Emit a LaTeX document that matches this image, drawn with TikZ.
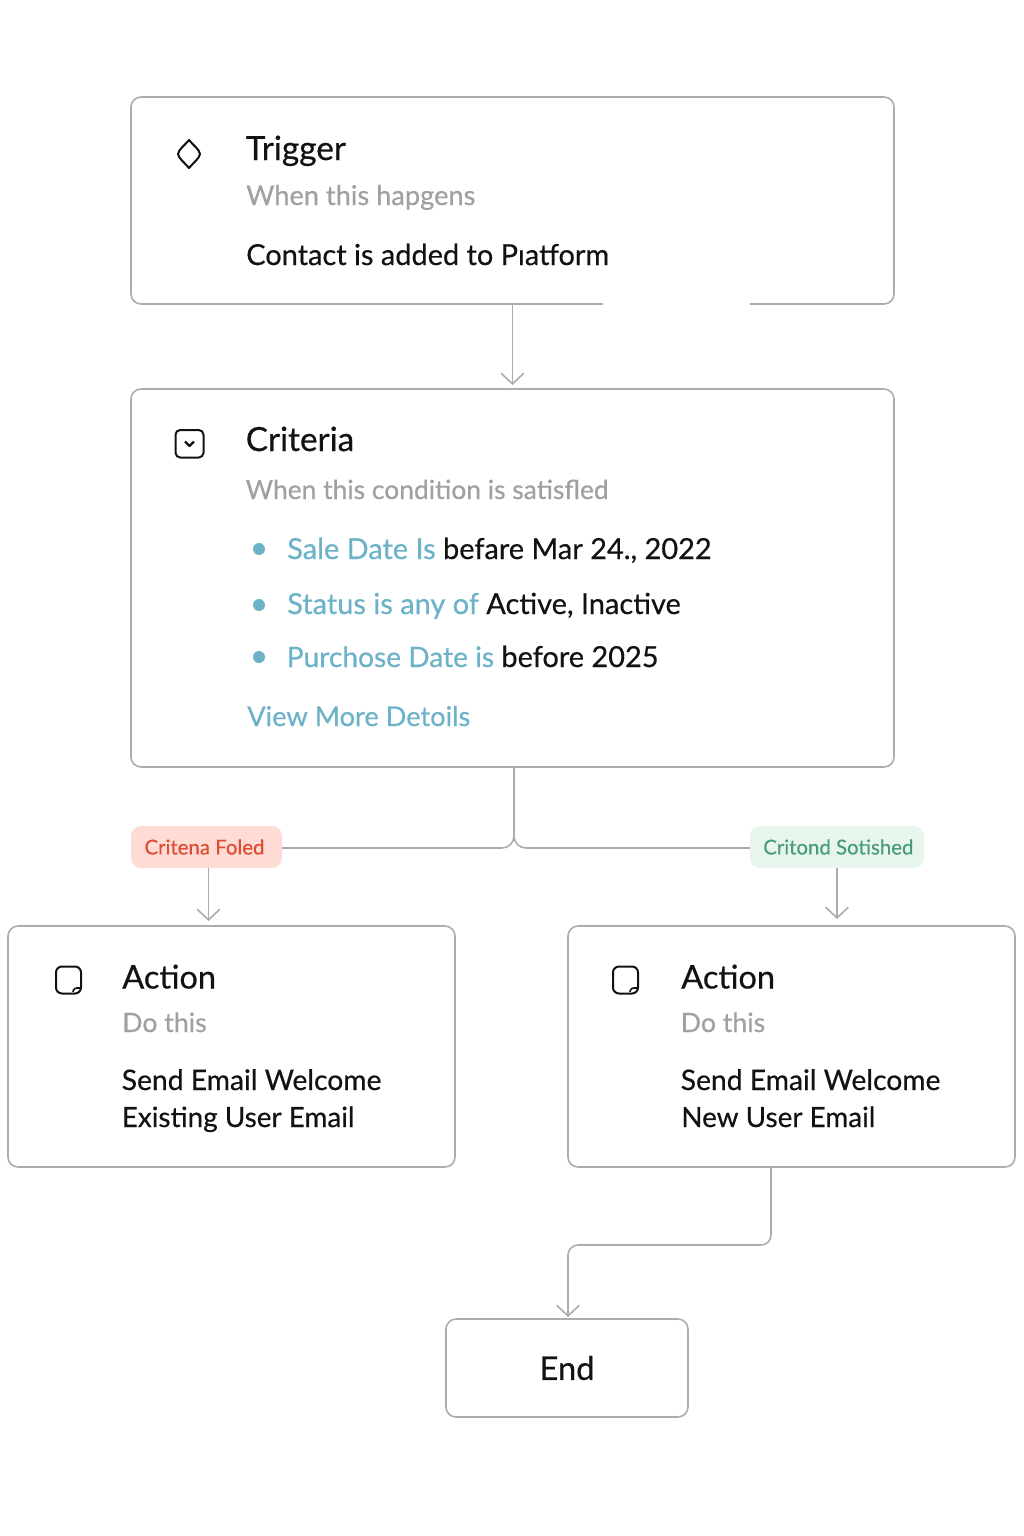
\documentclass[tikz,border=0pt]{standalone}
\usepackage{fontspec}
\setmainfont{Lato}[FakeBold=0.45]
\usetikzlibrary{arrows.meta,calc}
\definecolor{figW}{RGB}{172,172,172}
\definecolor{figG}{RGB}{160,160,160}
\definecolor{figB}{RGB}{108,178,201}
\definecolor{figK}{RGB}{18,18,18}
\definecolor{figR}{RGB}{222,76,52}
\definecolor{figRb}{RGB}{255,219,214}
\definecolor{figN}{RGB}{72,156,120}
\definecolor{figNb}{RGB}{232,245,236}
\newcommand{\fsz}[1]{\fontsize{#1}{#1}\selectfont}

\begin{document}
\begin{tikzpicture}[x=0.75pt,y=-0.75pt,>={Straight Barb[length=8pt,width=17pt]},
  card/.style={draw=figW,line width=1.2pt,rounded corners=7.5pt,inner sep=0pt,outer sep=0pt,fill=white},
  wire/.style={draw=figW,line width=1.2pt},
  tag/.style={rounded corners=7.5pt,inner sep=0pt,outer sep=0pt,minimum height=31.5pt,font=\fsz{15.3}},
  head/.style={anchor=base west,inner sep=0pt,text=figK,font=\fsz{25}},
  sub/.style={anchor=base west,inner sep=0pt,text=figG,font=\fsz{20}},
  body/.style={anchor=base west,inner sep=0pt,text=figK,font=\fsz{21.7}},
  icon/.style={draw=figK,line width=1.5pt,line join=round}]
\useasboundingbox (0,0) rectangle (1024,1536);
\node[card,minimum width=572.25pt,minimum height=155.25pt] (trigger) at (512.5,200.5) {};
\node[card,minimum width=572.25pt,minimum height=283.5pt] (criteria) at (512.5,578) {};
\node[card,minimum width=335.25pt,minimum height=180.75pt] (actleft) at (231.5,1046.5) {};
\node[card,minimum width=335.25pt,minimum height=180.75pt] (actright) at (791.5,1046.5) {};
\node[card,minimum width=181.5pt,minimum height=73.5pt] (finish) at (567,1368) {\fsz{24.5}\textcolor{figK}{End}};
\node[tag,fill=figRb,text=figR,minimum width=113.25pt] (failed) at (206.5,847) {\hspace*{-3pt}Critena Foled};
\node[tag,fill=figNb,text=figN,minimum width=130.5pt] (passed) at (837,847) {\hspace*{2pt}Critond Sotished};
% gap in the lower edge of the first box
\draw[white,line width=2.2pt] (603,304) -- (750,304);
\coordinate (fork) at (514,767);
\coordinate (merge) at (771,1167);
\draw[wire,->] (trigger.south) -- ([yshift=3pt]trigger.south |- criteria.north);
\draw[wire,rounded corners=9pt] (fork) |- ([yshift=-0.75pt]failed.east);
\draw[wire,rounded corners=9pt] (fork) |- ([yshift=-0.75pt]passed.west);
\draw[wire,->] ([xshift=1.5]failed.south) -- ([xshift=1.5,yshift=3.75pt]failed.south |- actleft.north);
\draw[wire,->] (passed.south) -- ([yshift=5.25pt]passed.south |- actright.north);
\draw[wire,->,rounded corners=7.5pt] (merge) -- (771,1245) -- (568,1245) -- (568,1317);
% trigger
\draw[icon] (189,140) .. controls (192,144) and (200,150) .. (200,154) .. controls (200,158) and (192,164) .. (189,168) .. controls (186,164) and (178,158) .. (178,154) .. controls (178,150) and (186,144) .. (189,140) -- cycle;
\node[head] (trigtitle) at (245.5,160) {Trigger};
\node[sub,font=\fsz{20.4}] (trigsub) at (246,205) {When this hapgens};
\node[body] (trigbody) at (246,265) {Contact is added to Pıatform};
% criteria
\draw[icon,rounded corners=3.5pt] (175.5,430) rectangle (203.5,457.5);
\draw[icon,line width=1.7pt] (185,441.5) -- (189.5,446) -- (194,441.5);
\node[head] (crittitle) at (245.5,451) {Criteria};
\node[sub,font=\fsz{19.8}] (critsub) at (245.5,499) {When this condition is satisfled};
\foreach \yb in {549,605,657} \fill[figB] (259,\yb) circle (4.5pt);
\node[body] (critone) at (287,559) {\textcolor{figB}{Sale Date Is} befare Mar 24., 2022};
\node[body] (crittwo) at (287,614) {\textcolor{figB}{Status is any of} Active, Inactive};
\node[body] (critthree) at (286.5,667) {\textcolor{figB}{\fsz{21.1}Purchose Date is} before 2025};
\node[body,text=figB,font=\fsz{20.4}] (critmore) at (247,726) {View More Detoils};
% actions
\foreach \xa/\xb in {56/81,613/638} {
  \draw[icon,rounded corners=4.5pt] (\xa,966.5) rectangle (\xb,993.5);
  \draw[icon,line width=1.2pt] (\xb-8,992) .. controls (\xb-8,988.5) and (\xb-5,987.5) .. (\xb-1,988);
}
\node[head,font=\fsz{24.4}] (lefttitle) at (122,988.5) {Action};
\node[sub] (leftsub) at (122,1032) {Do this};
\node[body,font=\fsz{21.2}] (leftone) at (121.5,1090) {Send Email Welcome};
\node[body,font=\fsz{20.9}] (lefttwo) at (121.5,1127) {Existing User Email};
\node[head,font=\fsz{24.4}] (righttitle) at (681,988.5) {Action};
\node[sub] (rightsub) at (680.5,1032) {Do this};
\node[body,font=\fsz{21.2}] (rightone) at (680.5,1090) {Send Email Welcome};
\node[body,font=\fsz{20.9}] (righttwo) at (681,1127) {New User Email};
\end{tikzpicture}
\end{document}
